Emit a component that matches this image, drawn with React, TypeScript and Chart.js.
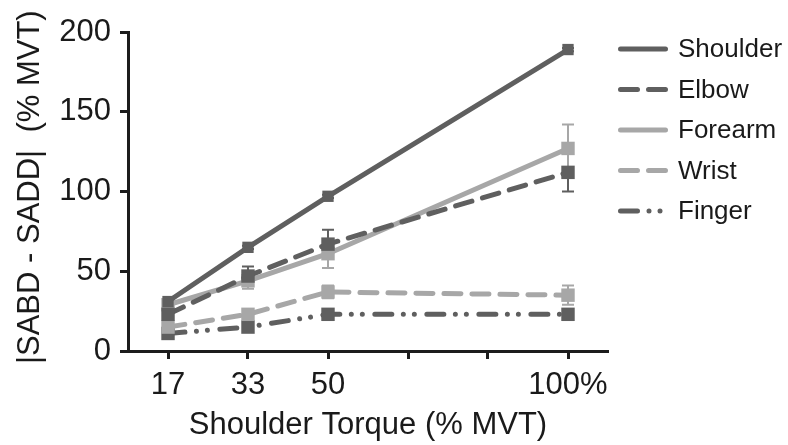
import React, { useEffect, useRef } from 'react';
import { Chart, registerables } from 'chart.js';

Chart.register(...registerables);

// ---- data ----
const X_POSITIONS = [16.67, 33.33, 50, 100];
const X_TICK_VALUES = [16.67, 33.33, 50, 66.67, 83.33, 100];
const X_TICK_LABELS = ['17', '33', '50', '', '', '100%'];
const Y_MIN = 0;
const Y_MAX = 200;
const Y_STEP = 50;

const SERIES_NAMES = ['Shoulder', 'Elbow', 'Forearm', 'Wrist', 'Finger'];
const SHOULDER = [31, 65, 97, 189];
const SHOULDER_ERR = [1, 1, 1, 1];
const ELBOW = [23, 47, 67, 112];
const ELBOW_ERR = [4, 6, 9, 12];
const FOREARM = [29, 44, 61, 127];
const FOREARM_ERR = [3, 5, 9, 15];
const WRIST = [15, 23, 37, 35];
const WRIST_ERR = [3, 3, 4, 6];
const FINGER = [11, 15, 23, 23];
const FINGER_ERR = [2, 3, 2, 3];

const X_TITLE = 'Shoulder Torque (% MVT)';
const Y_TITLE = ' |SABD - SADD|  (% MVT)';

// ---- styles ----
const DARK = '#5f5f5f';
const LIGHT = '#a7a7a7';
const AXIS = '#1c1c1c';
const FONT = '"Liberation Sans", Arial, Helvetica, sans-serif';

const DASH = [17, 11];
const DASH_DOT_DOT = [17, 11.5, 0.01, 11, 0.01, 12.5];

function makeDataset(
  label: string,
  values: number[],
  errors: number[],
  color: string,
  dash: number[],
  width: number,
  pointStyle: string,
  pointRadius: number,
  cap: string
) {
  return {
    label,
    data: X_POSITIONS.map((x, i) => ({ x, y: values[i] })),
    errors,
    borderColor: color,
    backgroundColor: color,
    borderWidth: width,
    borderDash: dash,
    borderCapStyle: cap,
    pointStyle,
    pointRadius,
    pointHoverRadius: pointRadius,
    pointBackgroundColor: color,
    pointBorderColor: color,
    pointBorderWidth: 0,
    fill: false,
    tension: 0,
  };
}

const errorBarPlugin = {
  id: 'errorBars',
  beforeDatasetsDraw(chart: any) {
    const ctx = chart.ctx;
    const yScale = chart.scales.y;
    chart.data.datasets.forEach((ds: any, di: number) => {
      const meta = chart.getDatasetMeta(di);
      ctx.save();
      ctx.strokeStyle = ds.borderColor;
      ctx.lineWidth = 2;
      ctx.setLineDash([]);
      meta.data.forEach((pt: any, i: number) => {
        const v = ds.data[i].y;
        const e = ds.errors[i];
        const yTop = yScale.getPixelForValue(v + e);
        const yBot = yScale.getPixelForValue(v - e);
        const x = pt.x;
        ctx.beginPath();
        ctx.moveTo(x, yTop);
        ctx.lineTo(x, yBot);
        ctx.moveTo(x - 6, yTop);
        ctx.lineTo(x + 6, yTop);
        ctx.moveTo(x - 6, yBot);
        ctx.lineTo(x + 6, yBot);
        ctx.stroke();
      });
      ctx.restore();
    });
  },
};

const LEGEND_X = 620.5;
const LEGEND_LINE = 45;
const LEGEND_TEXT_X = 678;
const LEGEND_TOP = 49;
const LEGEND_STEP = 40.5;

const sideLegendPlugin = {
  id: 'sideLegend',
  afterDraw(chart: any) {
    const ctx = chart.ctx;
    chart.data.datasets.forEach((ds: any, i: number) => {
      const y = LEGEND_TOP + i * LEGEND_STEP;
      ctx.save();
      ctx.strokeStyle = ds.borderColor;
      ctx.lineWidth = 5;
      ctx.lineCap = 'round';
      ctx.setLineDash(ds.borderDash || []);
      ctx.beginPath();
      ctx.moveTo(LEGEND_X, y);
      ctx.lineTo(LEGEND_X + LEGEND_LINE, y);
      ctx.stroke();
      ctx.setLineDash([]);
      ctx.fillStyle = '#1a1a1a';
      ctx.font = `26px ${FONT}`;
      ctx.textBaseline = 'middle';
      ctx.textAlign = 'left';
      ctx.fillText(ds.label, LEGEND_TEXT_X, y + 1);
      ctx.restore();
    });
  },
};

export default function App() {
  const canvasRef = useRef<HTMLCanvasElement | null>(null);

  useEffect(() => {
    if (!canvasRef.current) return;
    const datasets = [
      makeDataset(SERIES_NAMES[0], SHOULDER, SHOULDER_ERR, DARK, [], 5, 'rect', 8, 'butt'),
      makeDataset(SERIES_NAMES[1], ELBOW, ELBOW_ERR, DARK, DASH, 5, 'rect', 9.5, 'round'),
      makeDataset(SERIES_NAMES[2], FOREARM, FOREARM_ERR, LIGHT, [], 5, 'rect', 9.5, 'butt'),
      makeDataset(SERIES_NAMES[3], WRIST, WRIST_ERR, LIGHT, DASH, 5, 'rect', 9.5, 'round'),
      makeDataset(SERIES_NAMES[4], FINGER, FINGER_ERR, DARK, DASH_DOT_DOT, 5, 'rect', 9.5, 'round'),
    ];

    const chart = new Chart(canvasRef.current, {
      type: 'line',
      data: { datasets } as any,
      plugins: [errorBarPlugin, sideLegendPlugin],
      options: {
        animation: false,
        responsive: true,
        maintainAspectRatio: false,
        layout: { padding: { top: 32, right: 180, left: 0, bottom: 0 } },
        plugins: {
          legend: { display: false },
          tooltip: { enabled: false },
        },
        scales: {
          x: {
            type: 'linear',
            min: 8.333,
            max: 108.333,
            afterBuildTicks: (scale: any) => {
              scale.ticks = X_TICK_VALUES.map((v) => ({ value: v }));
            },
            afterFit: (scale: any) => {
              scale.height = 94;
            },
            ticks: {
              autoSkip: false,
              maxRotation: 0,
              padding: 8,
              color: '#1a1a1a',
              font: { family: FONT, size: 31 },
              callback: (_v: any, i: number) => X_TICK_LABELS[i],
            },
            grid: {
              drawOnChartArea: false,
              drawTicks: true,
              tickLength: 8,
              tickWidth: 3,
              tickColor: AXIS,
            },
            border: { display: true, color: AXIS, width: 3 },
            title: {
              display: true,
              text: X_TITLE,
              color: '#1a1a1a',
              font: { family: FONT, size: 31 },
              padding: { top: 0, bottom: 1 },
            },
          },
          y: {
            type: 'linear',
            min: Y_MIN,
            max: Y_MAX,
            afterFit: (scale: any) => {
              scale.width = 128;
            },
            ticks: {
              stepSize: Y_STEP,
              padding: 9,
              color: '#1a1a1a',
              font: { family: FONT, size: 31 },
            },
            grid: {
              drawOnChartArea: false,
              drawTicks: true,
              tickLength: 8,
              tickWidth: 3,
              tickColor: AXIS,
            },
            border: { display: true, color: AXIS, width: 3 },
            title: {
              display: true,
              text: Y_TITLE,
              color: '#1a1a1a',
              font: { family: FONT, size: 31 },
              padding: { top: 12, bottom: 0 },
            },
          },
        },
      } as any,
    });
    return () => chart.destroy();
  }, []);

  return (
    <div style={{ position: 'fixed', left: 0, top: 0, width: 788, height: 445, background: '#fff' }}>
      <canvas ref={canvasRef} />
    </div>
  );
}
